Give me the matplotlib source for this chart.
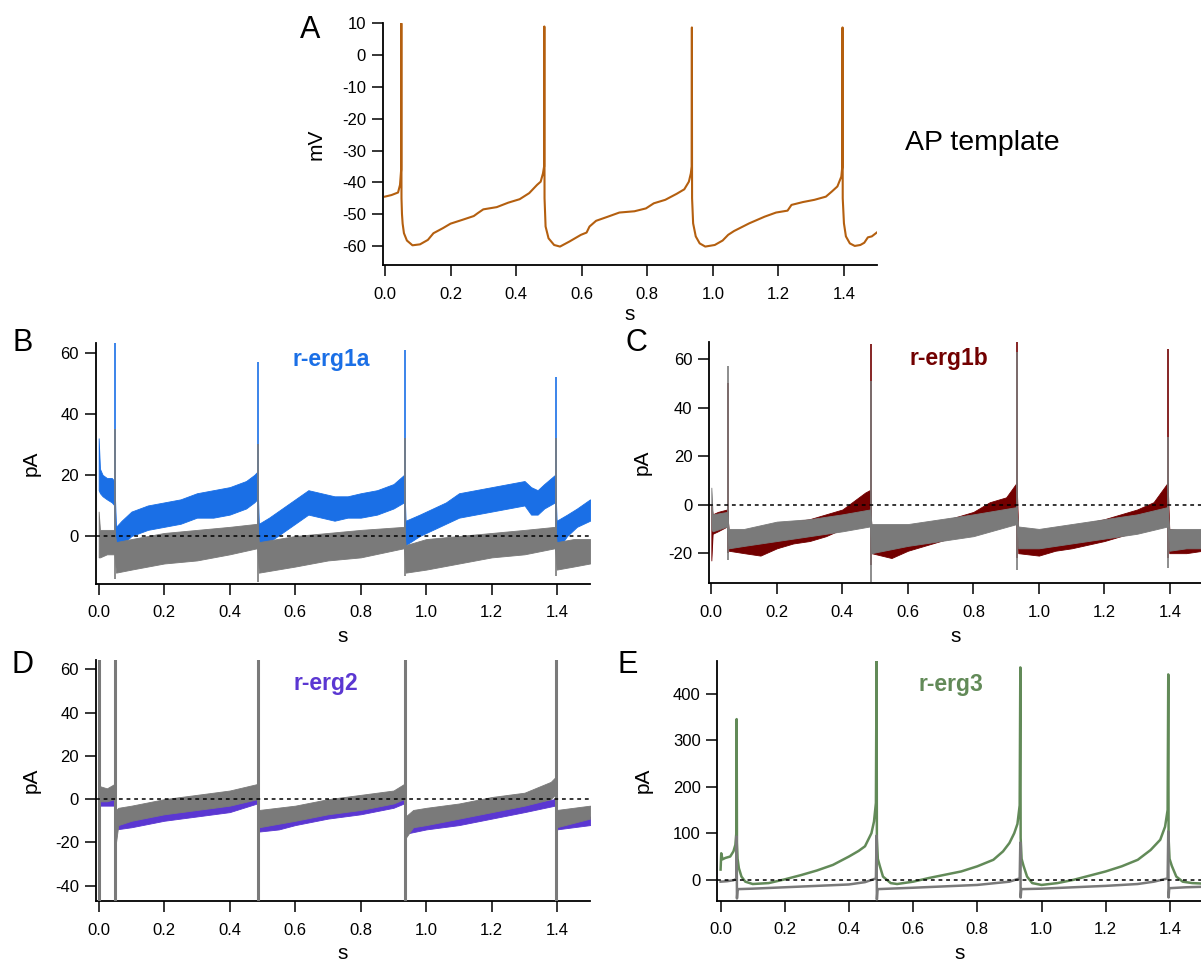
import matplotlib
matplotlib.use("Agg")
import matplotlib.pyplot as plt

plt.rcParams['font.family'] = ['Liberation Sans', 'DejaVu Sans']

# spike times shared by the current recordings (s)
spike_t = [0.050, 0.486, 0.934, 1.395]

# A: action potential template (mV)
ap_t = [0.000, 0.020, 0.040, 0.046, 0.048, 0.0495, 0.0500, 0.0505, 0.052, 0.054,
        0.058, 0.067, 0.084, 0.107, 0.131, 0.148, 0.177, 0.200, 0.236, 0.271,
        0.283, 0.300, 0.341, 0.376, 0.411, 0.440, 0.464, 0.475, 0.482, 0.4855,
        0.4862, 0.4868, 0.490, 0.499, 0.516, 0.534, 0.563, 0.598, 0.615, 0.624,
        0.644, 0.680, 0.715, 0.761, 0.796, 0.820, 0.855, 0.890, 0.913, 0.927,
        0.933, 0.9355, 0.9362, 0.9368, 0.940, 0.948, 0.960, 0.977, 1.006, 1.030,
        1.047, 1.065, 1.111, 1.158, 1.193, 1.228, 1.240, 1.275, 1.310, 1.345,
        1.363, 1.380, 1.392, 1.3950, 1.3957, 1.3963, 1.400, 1.406, 1.418, 1.433,
        1.450, 1.462, 1.473, 1.485, 1.500]
ap_mv = [-44.5, -44, -43.2, -40.8, -38, -36, 10, -45, -50, -53,
         -56, -58.3, -59.8, -59.5, -58.1, -56, -54.4, -53, -51.8, -50.6,
         -49.7, -48.5, -47.8, -46.4, -45.3, -43.4, -40.8, -39.8, -37.2, -35,
         9, -45, -53.9, -57.6, -59.7, -60.2, -58.6, -56.5, -55.8, -53.9,
         -52.1, -50.8, -49.5, -49.1, -48.2, -46.6, -45.5, -43.6, -42.2, -39.8,
         -37.2, -35, 8.7, -45, -52.9, -57, -59.2, -60.2, -59.7, -58.3,
         -56.5, -55.3, -52.9, -50.8, -49.5, -48.9, -47.1, -46.2, -45.5, -44.5,
         -42.9, -41.3, -38.2, -35, 8.7, -45, -52.9, -57, -59.2, -60,
         -59.7, -59, -57.3, -57, -55.8]

# B: r-erg1a (blue) and control (gray), noise band low/high in pA
b_blue_t = [0.000, 0.004, 0.012, 0.025, 0.040, 0.048,
            0.053, 0.070, 0.100, 0.150, 0.200, 0.250, 0.300, 0.350, 0.400, 0.450, 0.475, 0.484,
            0.489, 0.520, 0.560, 0.600, 0.640, 0.680, 0.720, 0.760, 0.800, 0.850, 0.900, 0.932,
            0.937, 0.980, 1.020, 1.060, 1.100, 1.150, 1.200, 1.250, 1.300, 1.320, 1.340, 1.360, 1.393,
            1.398, 1.430, 1.460, 1.500]
b_blue_lo = [15, 14, 13, 12, 11, 10,
             -5, -3, 0, 2, 3, 4, 6, 6, 7, 9, 11, 12,
             -4, -2, 1, 4, 7, 6, 5, 6, 6, 7, 9, 11,
             -3, 0, 2, 4, 6, 7, 8, 9, 10, 7, 7, 9, 11,
             -5, 0, 3, 5]
b_blue_hi = [32, 22, 20, 19, 19, 18,
             3, 5, 8, 10, 11, 12, 14, 15, 16, 18, 20, 21,
             4, 6, 9, 12, 15, 14, 13, 13, 14, 15, 17, 20,
             5, 7, 9, 11, 14, 15, 16, 17, 18, 16, 15, 17, 20,
             5, 7, 9, 12]
b_blue_peak = [63.5, 57, 61, 52]
b_blue_trough = [-5, -4, -3, -5]

b_gray_t = [0.000, 0.004, 0.025, 0.048,
            0.053, 0.100, 0.200, 0.300, 0.400, 0.484,
            0.489, 0.600, 0.700, 0.800, 0.932,
            0.937, 1.000, 1.100, 1.200, 1.300, 1.393,
            1.398, 1.450, 1.500]
b_gray_lo = [-7, -7, -6, -6,
             -12, -11, -9, -8, -6, -4,
             -12, -10, -8, -7, -4,
             -12, -11, -9, -7, -6, -4,
             -11, -10, -9]
b_gray_hi = [8, 2, 2, 2,
             -2, -1, 1, 2, 3, 4,
             -2, 0, 1, 2, 3,
             -3, -1, 0, 1, 2, 3,
             -2, -1, -1]
b_gray_peak = [35, 30, 32, 32]
b_gray_trough = [-14, -15, -13, -13]

# C: r-erg1b (dark red) and control (gray)
c_red_t = [0.000, 0.004, 0.020, 0.048,
           0.053, 0.100, 0.150, 0.200, 0.250, 0.300, 0.350, 0.400, 0.440, 0.470, 0.484,
           0.489, 0.550, 0.600, 0.650, 0.700, 0.750, 0.800, 0.850, 0.900, 0.932,
           0.937, 1.000, 1.050, 1.100, 1.200, 1.250, 1.300, 1.350, 1.393,
           1.398, 1.450, 1.500]
c_red_lo = [-23, -12, -11, -9,
            -19, -20, -21, -18, -16, -15, -13, -10, -7, -5, -4,
            -20, -22, -19, -17, -15, -13, -11, -8, -6, -3,
            -20, -21, -19, -18, -15, -13, -11, -8, -5,
            -20, -20, -19]
c_red_hi = [0, -4, -3, -2,
            -11, -11, -11, -9, -7, -6, -4, -2, 2, 5, 6,
            -11, -13, -11, -9, -7, -5, -3, 1, 3, 9,
            -11, -12, -10, -9, -6, -4, -2, 1, 9,
            -10, -11, -11]
c_red_peak = [50, 66, 67.5, 64]
c_red_trough = [-20, -25, -22, -22]

c_gray_t = [0.000, 0.004, 0.048,
            0.053, 0.100, 0.200, 0.300, 0.400, 0.484,
            0.489, 0.600, 0.700, 0.800, 0.932,
            0.937, 1.000, 1.100, 1.200, 1.300, 1.393,
            1.398, 1.450, 1.500]
c_gray_lo = [-10, -11, -9,
             -18, -17, -15, -13, -11, -9,
             -20, -17, -15, -13, -8,
             -18, -18, -16, -14, -12, -9,
             -19, -18, -18]
c_gray_hi = [7, -4, -3,
             -10, -10, -7, -6, -4, -2,
             -8, -8, -6, -4, -1,
             -9, -10, -8, -6, -4, -1,
             -10, -10, -10]
c_gray_peak = [57, 51, 63, 28]
c_gray_trough = [-23, -32, -27, -26]

# D: r-erg2 (purple) and control (gray)
d_purple_t = [0.000, 0.004, 0.048,
              0.053, 0.100, 0.200, 0.300, 0.400, 0.484,
              0.489, 0.550, 0.600, 0.700, 0.800, 0.900, 0.932,
              0.937, 1.000, 1.100, 1.200, 1.300, 1.393,
              1.398, 1.500]
d_purple_lo = [-3, -3, -3,
               -14, -13, -10, -8, -6, -2,
               -15, -14, -12, -9, -7, -4, -2,
               -16, -14, -12, -9, -6, -3,
               -14, -12]
d_purple_hi = [25, 1, 0,
               -10, -8, -5, -3, -1, 2,
               -11, -10, -8, -4, -2, 0, 1,
               -12, -10, -7, -5, -2, 0,
               -10, -8]
d_purple_spike_t = [0.053, 0.489, 0.937, 1.398]
d_purple_trough = [-44, -44, -44, -44]

d_gray_t = [0.004, 0.025, 0.048,
            0.053, 0.060, 0.100, 0.200, 0.300, 0.400, 0.484,
            0.489, 0.600, 0.700, 0.800, 0.900, 0.932,
            0.937, 0.960, 1.000, 1.100, 1.200, 1.300, 1.380, 1.393,
            1.398, 1.500]
d_gray_lo = [-1, -1, 0,
             -20, -12, -10, -7, -5, -3, 0,
             -13, -10, -7, -5, -2, 0,
             -18, -13, -12, -9, -6, -3, 0, 2,
             -13, -9]
d_gray_hi = [6, 5, 7,
             -5, -4, -3, 0, 2, 4, 7,
             -5, -3, 0, 2, 4, 7,
             -8, -5, -4, -2, 1, 3, 8, 10,
             -5, -3]
d_gray_spike_t = [0.001, 0.050, 0.486, 0.934, 1.395]
d_gray_peak = [66, 66, 66, 66, 66]
d_gray_trough = [-48, -48, -48, -48, -48]

# E: r-erg3 (green) and control (gray), pA
e_green_t = [0.000, 0.002, 0.006, 0.015, 0.030, 0.040, 0.046, 0.049, 0.050, 0.051,
             0.053, 0.057, 0.065, 0.077, 0.100, 0.150, 0.200, 0.250, 0.300, 0.350,
             0.400, 0.430, 0.450, 0.470, 0.478, 0.484, 0.486, 0.487, 0.490, 0.496,
             0.506, 0.530, 0.550, 0.600, 0.650, 0.700, 0.750, 0.800, 0.850, 0.880,
             0.900, 0.915, 0.925, 0.932, 0.934, 0.935, 0.938, 0.944, 0.955, 0.971,
             1.000, 1.050, 1.100, 1.150, 1.200, 1.250, 1.300, 1.340, 1.370, 1.385,
             1.393, 1.395, 1.396, 1.399, 1.406, 1.420, 1.440, 1.470, 1.500]
e_green = [22, 57, 44, 47, 50, 61, 75, 100, 345, 80,
           45, 25, 7, -4, -9, -7, 1, 10, 20, 32,
           50, 62, 72, 100, 125, 165, 472, 90, 45, 30,
           7, -7, -9, -4, 4, 11, 18, 29, 43, 61,
           79, 100, 120, 160, 456, 90, 45, 30, 7, -7,
           -11, -7, 0, 9, 18, 29, 43, 64, 86, 114,
           150, 441, 90, 45, 30, 7, -4, -7, -8]

e_gray_t = [0.000, 0.020, 0.040, 0.049, 0.050, 0.051, 0.053,
            0.100, 0.200, 0.300, 0.400, 0.450, 0.484, 0.486, 0.487, 0.489,
            0.600, 0.700, 0.800, 0.900, 0.932, 0.934, 0.935, 0.937,
            1.000, 1.100, 1.200, 1.300, 1.350, 1.393, 1.395, 1.396, 1.398,
            1.450, 1.500]
e_gray = [-4, -3, -1, 2, 93, -40, -20,
          -19, -16, -13, -10, -5, 3, 95, -42, -20,
          -17, -14, -11, -4, 3, 80, -38, -20,
          -19, -16, -13, -9, -4, 3, 104, -38, -18,
          -16, -15]

x_ticks = [0.0, 0.2, 0.4, 0.6, 0.8, 1.0, 1.2, 1.4]

AP_COLOR = '#b45f0f'
BLUE = '#1a6fe6'
DARKRED = '#720000'
PURPLE = '#5b37d2'
GREEN = '#628a58'
GRAY = '#7a7a7a'


def style_axes(ax, xlim, ylim, yticks, ylabel, label_x):
    ax.set_xlim(*xlim)
    ax.set_ylim(*ylim)
    ax.set_xticks(x_ticks)
    ax.set_xticklabels(['%.1f' % v for v in x_ticks])
    ax.set_yticks(yticks)
    ax.set_yticklabels(['%d' % v for v in yticks])
    for side in ['top', 'right']:
        ax.spines[side].set_visible(False)
    for side in ['left', 'bottom']:
        ax.spines[side].set_linewidth(1.3)
    ax.tick_params(direction='out', length=8, width=1.1, labelsize=12)
    ax.tick_params(axis='x', pad=7.5)
    ax.tick_params(axis='y', pad=4)
    ax.set_xlabel('s', fontsize=15)
    ax.xaxis.set_label_coords(0.5, -0.18)
    ax.set_ylabel(ylabel, fontsize=15)
    ax.yaxis.set_label_coords(label_x, 0.5)
    ax.patch.set_alpha(0)


def band(ax, t, lo, hi, color, z):
    ax.fill_between(t, lo, hi, color=color, lw=0.6, zorder=z)


def spikes(ax, t, lo, hi, color, z, lw=1.2):
    ax.vlines(t, lo, hi, color=color, lw=lw, zorder=z)


def zero_line(ax):
    ax.axhline(0, color='black', lw=1.1, ls=(0, (2.5, 2.5)), zorder=5)


fig = plt.figure(figsize=(12.01, 9.63), dpi=100)

# A: AP template
axA = fig.add_axes([0.3186, 0.7248, 0.4114, 0.2510])
axA.plot(ap_t, ap_mv, color=AP_COLOR, lw=1.5)
style_axes(axA, (-0.007, 1.5), (-66, 10), [10, 0, -10, -20, -30, -40, -50, -60], 'mV', -0.115)
axA.xaxis.set_label_coords(0.5, -0.165)
fig.text(0.8175, 0.852, 'AP template', fontsize=20.5, ha='center', va='center')

# B: r-erg1a
axB = fig.add_axes([0.0797, 0.3936, 0.4116, 0.2506])
band(axB, b_blue_t, b_blue_lo, b_blue_hi, BLUE, 2)
spikes(axB, spike_t, b_blue_trough, b_blue_peak, BLUE, 2)
band(axB, b_gray_t, b_gray_lo, b_gray_hi, GRAY, 3)
spikes(axB, spike_t, b_gray_trough, b_gray_peak, GRAY, 3)
zero_line(axB)
style_axes(axB, (-0.009, 1.5), (-15.7, 63.3), [0, 20, 40, 60], 'pA', -0.111)
axB.set_title('r-erg1a', color=BLUE, fontsize=16.5, fontweight='bold', x=0.476, y=0.87)

# C: r-erg1b
axC = fig.add_axes([0.5903, 0.3943, 0.4111, 0.2506])
band(axC, c_red_t, c_red_lo, c_red_hi, DARKRED, 2)
spikes(axC, spike_t, c_red_trough, c_red_peak, DARKRED, 2)
band(axC, c_gray_t, c_gray_lo, c_gray_hi, GRAY, 3)
spikes(axC, spike_t, c_gray_trough, c_gray_peak, GRAY, 3)
zero_line(axC)
style_axes(axC, (-0.0073, 1.5), (-32.4, 67.0), [-20, 0, 20, 40, 60], 'pA', -0.115)
axC.set_title('r-erg1b', color=DARKRED, fontsize=16.5, fontweight='bold', x=0.486, y=0.87)

# D: r-erg2
axD = fig.add_axes([0.0797, 0.0644, 0.4116, 0.2503])
band(axD, d_purple_t, d_purple_lo, d_purple_hi, PURPLE, 2)
spikes(axD, d_purple_spike_t, d_purple_trough, [5, 5, 5, 5], PURPLE, 2)
band(axD, d_gray_t, d_gray_lo, d_gray_hi, GRAY, 3)
spikes(axD, d_gray_spike_t, d_gray_trough, d_gray_peak, GRAY, 3, lw=2.2)
zero_line(axD)
style_axes(axD, (-0.009, 1.5), (-47.1, 64.4), [-40, -20, 0, 20, 40, 60], 'pA', -0.111)
axD.set_title('r-erg2', color=PURPLE, fontsize=16.5, fontweight='bold', x=0.466, y=0.84)

# E: r-erg3
axE = fig.add_axes([0.5974, 0.0649, 0.4034, 0.2492])
axE.plot(e_green_t, e_green, color=GREEN, lw=1.8, zorder=2)
axE.plot(e_gray_t, e_gray, color=GRAY, lw=1.8, zorder=3)
zero_line(axE)
style_axes(axE, (-0.0097, 1.5), (-44.4, 470.8), [0, 100, 200, 300, 400], 'pA', -0.133)
axE.set_title('r-erg3', color=GREEN, fontsize=16.5, fontweight='bold', x=0.481, y=0.84)

# panel letters
for letter, x, y in [('A', 0.258, 0.969), ('B', 0.019, 0.644), ('C', 0.53, 0.644),
                     ('D', 0.019, 0.309), ('E', 0.523, 0.309)]:
    fig.text(x, y, letter, fontsize=22, ha='center', va='center')

fig.savefig('out.png', dpi=100)
